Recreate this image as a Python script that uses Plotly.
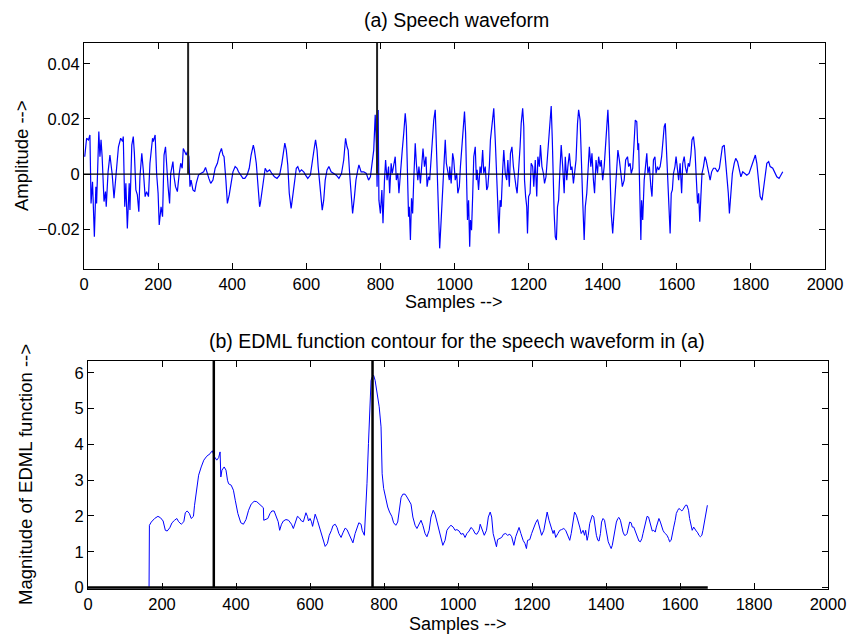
import plotly.graph_objects as go

# ---------------- data ----------------
# (a) speech waveform: (sample, amplitude) vertices
speech_part1 = [(2,.0063),(7,.013),(12,.0124),(16,.0142),(19,-.0107),(23,-.0028),(28,-.0228),(32,-.0046),(34,-.0107),(40,.0154),(43,.0063),(46,.0124),(49,.0063),(54,-.010),(58,-.0064),(60,-.0119),(65,.0008),(70,.0069),(76,0),(81,-.0088),(86,-.001),(93,.0099),(99,.013),(104,.0118),(106,.0136),(110,-.0119),(113,-.0034),(117,-.0198),(122,-.0034),(124,-.0131),(129,.0105),(133,.0136),(136,.0075),(140,-.0058),(144,-.0076),(148,-.0137),(151,-.001),(156,.0075),(160,.0015),(165,-.0082),(169,-.0064),(174,-.0082),(178,.0039),(185,.013),(187,.0118),(192,.0142),(196,.0002),(200,-.007),(203,-.0185),(208,-.0119),(212,-.0155),(216,.0069),(220,.0099),(223,.0015),(227,-.0046),(231,-.0107),(234,.0002),(240,.0045),(243,-.001),(247,-.0046),(252,-.0064),(257,.0002),(261,.0039),(265,.0021),(268,.0093),(272,.0081),(276,.0069),(279,.0081),(283,.0063),(286,-.0046),(289,-.0022),(294,-.0058),(299,-.0064),(303,-.0034),(309,-.0004),(315,.0002),(323,.0008),(328,.0024),(331,.0008),(337,-.0016),(342,-.0034),(348,-.0022),(354,.0021),(360,.0039),(366,.0075),(371,.0093),(375,.0069),(378,.0063),(383,-.0022),(387,-.0107),(392,-.0076),(396,-.0034),(402,.0008),(408,.0027),(413,.0021),(417,.0008),(423,-.0004),(429,-.0016),(434,-.0016),(440,-.0004),(446,.0021),(451,.0069),(457,.0105),(460,.0087),(465,.0039),(469,-.0034),(474,-.0119)]
speech_part2 = [(476,-.0107),(483,-.0046),(489,.0021),(494,.0008),(501,.0015),(507,.0002),(514,-.001),(521,-.0016),(528,-.0004),(534,.0039),(539,.0087),(542,.0112),(546,.0087),(550,.0033),(554,-.007),(559,-.0125),(562,-.0095),(568,-.0022),(573,.0021),(577,.0027),(582,.0008),(587,.0015),(593,.0008),(598,-.0004),(604,-.0016),(611,-.0004),(616,.0051),(622,.0099),(625,.0124),(629,.0087),(632,.0027),(638,-.0076),(643,-.0131),(647,-.0095),(651,-.0022),(656,.0015),(661,.0027),(667,.0008),(674,.0002),(681,-.0004),(688,-.0016),(695,.0002),(701,.0051),(706,.013),(710,.0099),(713,.0087),(717,.0002),(722,-.0082),(725,-.0143),(730,-.0082),(734,-.0022),(739,.0015),(742,.0033),(748,.0008),(755,.0008),(762,.0002),(768,-.0022),(773,-.001),(777,.0027),(782,.0087),(786,.0215),(789,.0112),(791,-.0046),(794,.0233),(796,-.0095),(800,-.0143),(804,-.0058),(807,-.0179),(811,-.0022),(814,.0051),(818,-.0022),(822,.0027),(825,-.007),(829,.0039),(832,.0002),(836,.0033),(840,.0063),(843,-.0022),(847,.0002),(850,-.007),(854,.0015),(859,.0087),(863,.0148),(867,.0221),(870,.0172),(873,-.0022),(876,-.0155),(878,-.0119),(881,-.024),(884,-.0088),(887,-.0143),(890,-.0022),(894,.0112),(897,.0039),(901,-.0022),(904,.0027),(908,-.0034),(912,.0039),(915,.0093),(919,.0027),(923,.0063),(926,-.0046),(930,-.001),(933,-.0022),(937,.0051),(941,.0148),(944,.0196),(948,.0233),(950,.0148),(953,-.0058),(957,-.0216),(960,-.027),(964,-.0167),(967,-.0095),(971,.0002),(975,.0124),(978,.0039),(982,.0002),(986,-.0022)]
speech_part3 = [(987,.0027),(991,-.0034),(995,.0075),(998,.0051),(1002,-.0022),(1006,.0002),(1009,-.007),(1013,-.0046),(1016,.0027),(1020,.0112),(1024,.0184),(1027,.0227),(1030,.0148),(1033,-.0022),(1035,-.0167),(1038,-.0095),(1041,-.0264),(1043,-.0167),(1046,-.0204),(1049,-.0082),(1052,.0063),(1056,.0099),(1059,-.0022),(1061,.0015),(1065,-.0058),(1069,.0027),(1072,.0002),(1076,.0087),(1079,.0002),(1083,.0027),(1087,-.0058),(1090,-.0046),(1094,.0027),(1097,.0124),(1102,.0184),(1106,.0239),(1110,.0124),(1114,-.0046),(1117,-.0167),(1120,-.0216),(1123,-.0095),(1126,-.0119),(1130,.0015),(1133,.0087),(1137,.0002),(1141,-.0022),(1144,.0051),(1148,-.0046),(1151,.0075),(1155,.0099),(1159,.0027),(1162,-.001),(1166,-.0046),(1169,-.007),(1173,.0002),(1177,.0099),(1180,.0184),(1184,.0239),(1187,.0172),(1189,-.0022),(1192,-.0082),(1195,-.0119),(1197,-.0216),(1200,-.0082),(1204,-.007),(1207,.0039),(1211,.0027),(1214,-.0046),(1218,.0051),(1222,-.0082),(1225,.0063),(1229,.0027),(1232,.0105),(1236,.0027),(1240,.0002),(1243,-.0034),(1247,-.001),(1251,.0069),(1254,.0124),(1258,.0196),(1261,.0247),(1264,.0124),(1267,-.0058),(1269,-.0143),(1272,-.0228),(1275,-.024),(1278,-.0119),(1281,-.0095),(1285,.0027),(1288,.0105),(1292,.0027),(1296,-.007),(1299,.0063),(1303,-.0022),(1306,.0027),(1310,.0075),(1314,.0015),(1317,.0027),(1321,-.0034),(1324,.0002),(1328,.0051),(1332,.0184),(1335,.0233),(1339,.0196),(1342,.0027),(1346,-.0095),(1350,-.024),(1353,-.0119),(1357,-.007),(1360,.0027),(1364,.0099),(1368,.0027),(1371,.0075),(1375,-.0022),(1378,-.007),(1382,.0051),(1386,.0002),(1389,.0063),(1393,.0027),(1396,.0051),(1400,-.0022),(1404,.0027),(1407,.0099),(1411,.016),(1414,.0233),(1416,.0172),(1420,.0002),(1423,-.0143),(1427,-.0216),(1431,-.0119),(1434,-.0034),(1438,.0039),(1441,.0087),(1445,.0051)]
speech_part4 = [(1449,.0002),(1453,-.0046),(1458,-.0022),(1462,.0051),(1467,.0063),(1470,.0027),(1474,.0039),(1477,.0002),(1481,.0021),(1485,.0099),(1488,.0196),(1492,.019),(1495,.0087),(1497,.0112),(1500,-.0095),(1503,-.024),(1505,-.0095),(1508,-.0167),(1512,-.0022),(1515,.0027),(1519,.0075),(1522,.0002),(1526,.0027),(1530,-.0046),(1533,-.0082),(1537,.0051),(1541,.0063),(1544,.0002),(1548,.0027),(1551,.0015),(1555,.0027),(1559,.0063),(1562,.0124),(1566,.0172),(1569,.0184),(1572,.0087),(1575,-.0022),(1578,-.0143),(1582,-.0216),(1585,-.007),(1588,-.0058),(1591,.0002),(1595,.0027),(1598,.0063),(1602,.0002),(1605,-.0022),(1609,.0039),(1613,-.007),(1616,.0039),(1620,.0063),(1623,.0027),(1627,.0002),(1631,.0039),(1634,.0027),(1638,.0069),(1641,.0124),(1645,.0136),(1649,.0087),(1652,.0002),(1656,-.0107),(1659,-.007),(1662,-.0173),(1665,-.0082),(1668,.0002),(1672,.0027),(1676,.0063),(1679,.0051),(1683,.0027),(1686,.0002),(1690,-.0022),(1694,.0008),(1699,.0021),(1704,.0021),(1710,.0008),(1715,.0021),(1719,.0063),(1723,.0099),(1728,.0105),(1731,.0063),(1735,-.001),(1739,-.007),(1742,-.0143),(1746,-.0082),(1750,.0002),(1755,.0039),(1759,.0057),(1764,.0045),(1768,.0021),(1773,-.001),(1778,.0008),(1784,.0002),(1789,-.0004),(1795,.0002),(1802,.0027),(1807,.0051),(1812,.0069),(1816,.0039),(1820,-.0022),(1825,-.0082),(1830,-.0095),(1834,-.0046),(1839,.0002),(1843,.0039),(1848,.0045),(1852,.0027),(1859,.0021),(1865,.0002),(1870,-.001),(1876,-.0016),(1881,-.0004),(1886,.0008)]

# (b) EDML function contour: (sample, magnitude) vertices
edml_part1 = [(0,0),(165,0),(166,1.74),(171,1.83),(180,1.93),(189,1.99),(196,1.95),(203,1.86),(209,1.60),(214,1.58),(221,1.67),(227,1.81),(234,1.88),(240,1.93),(245,1.84),(252,1.77),(259,1.84),(263,2.09),(268,2.14),(274,2.07),(279,1.93),(285,1.99),(288,2.30),(294,2.77),(299,3.14),(306,3.37),(313,3.56),(321,3.67),(326,3.70),(330,3.74),(333,3.79),(336,3.82),(342,3.65),(348,3.56),(353,3.63),(357,3.79),(359,3.09),(362,3.28),(368,3.37),(373,3.28),(377,3.00),(380,2.90),(387,2.86),(393,2.72),(398,2.44),(405,2.07),(413,1.81),(420,1.77),(427,1.90),(434,2.16),(441,2.33),(449,2.41),(456,2.40),(463,2.33),(470,2.25),(474,2.23),(475,1.88),(481,1.90),(486,1.93),(492,2.07),(497,2.14),(503,2.14),(508,2.02),(514,1.84),(518,1.60),(523,1.77),(528,1.86),(535,1.90),(542,1.88),(550,1.77),(555,1.65),(560,1.84),(566,1.99),(571,1.95),(577,1.86),(582,1.84),(586,1.97),(589,2.09),(593,1.99),(596,1.86),(600,1.93),(604,1.84),(607,1.71),(611,1.97),(614,2.05),(620,1.88),(625,1.70),(631,1.51),(636,1.32),(641,1.15),(647,1.23),(652,1.46)]
edml_part2 = [(658,1.60),(662,1.73),(668,1.77),(673,1.68),(678,1.51),(684,1.40),(689,1.53),(695,1.66),(700,1.62),(705,1.51),(711,1.34),(716,1.25),(722,1.51),(727,1.69),(732,1.81),(738,1.77),(741,1.60),(747,1.46),(750,1.97),(754,2.90),(758,4.02),(761,5.05),(765,5.79),(768,5.88),(772,5.93),(776,5.79),(781,5.47),(787,5.05),(792,4.49),(795,3.18),(799,2.77),(805,2.44),(810,2.25),(815,2.11),(821,1.99),(826,1.81),(832,1.74),(837,1.83),(841,2.21),(846,2.51),(851,2.61),(857,2.61),(862,2.53),(868,2.44),(873,2.33),(878,1.97),(884,1.74),(889,1.65),(895,1.79),(900,1.88),(905,1.74),(911,1.51),(916,1.42),(922,1.60),(927,1.97),(933,2.16),(938,2.05),(943,1.83),(949,1.60),(954,1.40),(959,1.18),(965,1.32),(970,1.60),(976,1.69),(981,1.74),(987,1.69),(992,1.60),(997,1.62),(1003,1.58),(1008,1.49),(1014,1.51),(1019,1.40),(1024,1.51),(1030,1.58),(1035,1.68),(1041,1.62),(1046,1.51),(1051,1.49),(1057,1.60),(1060,1.77),(1066,1.60),(1071,1.46),(1077,1.60),(1082,1.97),(1087,2.11),(1091,1.97),(1095,1.51),(1100,1.32),(1104,1.14),(1107,1.34),(1113,1.37),(1118,1.40),(1123,1.49),(1129,1.51),(1134,1.46),(1140,1.49),(1145,1.42),(1151,1.18),(1156,1.42),(1161,1.60),(1165,1.68),(1170,1.51),(1176,1.32),(1181,1.23),(1185,1.09),(1188,1.32),(1194,1.34),(1199,1.51),(1205,1.69),(1210,1.81),(1215,1.90),(1221,1.69),(1226,1.46),(1232,1.60),(1237,1.90),(1241,2.11),(1246,1.88),(1251,1.69),(1257,1.51),(1260,1.60),(1264,1.40),(1270,1.51),(1275,1.60),(1280,1.62),(1286,1.65),(1291,1.60),(1295,1.51),(1300,1.37)]
edml_part3 = [(1302,1.32),(1306,1.51),(1311,1.88),(1315,2.11),(1320,2.02),(1324,1.83),(1329,1.69),(1333,1.51),(1338,1.60),(1342,1.46),(1345,1.60),(1349,1.32),(1352,1.46),(1356,1.79),(1360,1.97),(1363,2.02),(1367,1.97),(1370,1.69),(1374,1.46),(1378,1.32),(1381,1.30),(1385,1.51),(1388,1.83),(1392,1.93),(1396,1.88),(1399,1.69),(1403,1.46),(1406,1.28),(1410,1.18),(1414,1.09),(1417,1.18),(1421,1.42),(1424,1.65),(1428,1.83),(1432,1.93),(1435,1.96),(1439,1.88),(1442,1.69),(1446,1.55),(1450,1.46),(1453,1.46),(1457,1.51),(1460,1.69),(1464,1.83),(1468,1.81),(1471,1.69),(1475,1.69),(1478,1.60),(1482,1.51),(1486,1.42),(1489,1.30),(1493,1.28),(1497,1.37),(1500,1.51),(1504,1.69),(1507,1.88),(1511,1.99),(1515,1.97),(1518,1.83),(1522,1.68),(1525,1.58),(1529,1.60),(1533,1.55),(1536,1.69),(1540,1.88),(1543,1.93),(1547,1.83),(1551,1.69),(1554,1.60),(1558,1.53),(1561,1.51),(1565,1.46),(1569,1.37),(1572,1.28),(1576,1.32),(1579,1.51),(1583,1.69),(1587,1.88),(1590,2.07),(1594,2.16),(1597,2.21),(1601,2.18),(1605,2.14),(1608,2.18),(1612,2.25),(1615,2.30),(1619,2.30),(1623,2.16),(1626,1.93),(1630,1.74),(1633,1.60),(1637,1.69),(1641,1.60),(1644,1.58),(1648,1.53),(1651,1.46),(1655,1.42),(1659,1.46),(1662,1.60),(1666,1.83),(1670,2.07),(1674,2.30)]

# epoch markers (sample positions) and the extent of the zero baseline
speech_markers = [281, 791]
edml_markers = [340, 769]
baseline_end = 1675

x_ticks = [0, 200, 400, 600, 800, 1000, 1200, 1400, 1600, 1800, 2000]
amp_ticks = [-0.02, 0, 0.02, 0.04]
amp_tick_text = ["\u22120.02", "0", "0.02", "0.04"]
edml_ticks = [0, 1, 2, 3, 4, 5, 6]

title_a = "(a) Speech waveform"
title_b = "(b) EDML function contour for the speech waveform in (a)"
xlabel = "Samples -->"
ylabel_a = "Amplitude -->"
ylabel_b = "Magnitude of EDML function -->"

# ---------------- build ----------------
speech = speech_part1 + speech_part2 + speech_part3 + speech_part4
edml = edml_part1 + edml_part2 + edml_part3
sx = [p[0] for p in speech]
sy = [p[1] for p in speech]
ex = [p[0] for p in edml]
ey = [p[1] for p in edml]

def stems(xs, top):
    X, Y = [], []
    for v in xs:
        X += [v, v, None]
        Y += [0, top, None]
    return X, Y

fig = go.Figure()
fig.add_trace(go.Scatter(x=sx, y=sy, mode="lines", line=dict(color="#0000ff", width=1.2),
                         xaxis="x", yaxis="y", showlegend=False))
fig.add_trace(go.Scatter(x=[0, baseline_end], y=[0, 0], mode="lines",
                         line=dict(color="black", width=1.2), xaxis="x", yaxis="y", showlegend=False))
mx, my = stems(speech_markers, 0.06)
fig.add_trace(go.Scatter(x=mx, y=my, mode="lines", line=dict(color="#222", width=2),
                         xaxis="x", yaxis="y", showlegend=False))

fig.add_trace(go.Scatter(x=ex, y=ey, mode="lines", line=dict(color="#0000ff", width=1),
                         xaxis="x2", yaxis="y2", showlegend=False))
fig.add_trace(go.Scatter(x=[0, baseline_end], y=[0, 0], mode="lines",
                         line=dict(color="black", width=2.5), xaxis="x2", yaxis="y2", showlegend=False))
mx2, my2 = stems(edml_markers, 7)
fig.add_trace(go.Scatter(x=mx2, y=my2, mode="lines", line=dict(color="black", width=2.5),
                         xaxis="x2", yaxis="y2", showlegend=False))

FONT = "Liberation Sans, Arial, Helvetica, sans-serif"
axis_common = dict(showline=True, linecolor="black", linewidth=1.2, mirror="allticks",
                   ticks="inside", ticklen=6, tickwidth=1, tickcolor="black",
                   showgrid=False, zeroline=False, tickfont=dict(family=FONT, size=16.5, color="black"))

W, H = 848, 635
fig.update_layout(
    width=W, height=H, autosize=False, margin=dict(l=0, r=0, t=0, b=0, autoexpand=False),
    paper_bgcolor="white", plot_bgcolor="white",
    xaxis=dict(domain=[84 / W, 825 / W], range=[0, 2000], tickvals=x_ticks, anchor="y", **axis_common),
    yaxis=dict(domain=[1 - 269 / H, 1 - 43 / H], range=[-0.0345, 0.0476], tickvals=amp_ticks,
               ticktext=amp_tick_text, anchor="x", **axis_common),
    xaxis2=dict(domain=[88 / W, 828 / W], range=[0, 2000], tickvals=x_ticks, anchor="y2", **axis_common),
    yaxis2=dict(domain=[1 - 589 / H, 1 - 361 / H], range=[-0.04, 6.33], tickvals=edml_ticks,
                anchor="x2", **axis_common),
)

def ann(text, x, y, size, angle=0):
    fig.add_annotation(text=text, x=x / W, y=1 - y / H, xref="paper", yref="paper",
                       showarrow=False, textangle=angle, xanchor="center", yanchor="middle",
                       font=dict(family=FONT, size=size, color="black"))

ann(title_a, 457, 20, 19.5)
ann(xlabel, 454, 301.5, 18)
ann(ylabel_a, 21, 156, 18.5, -90)
ann(title_b, 457, 341, 19.5)
ann(xlabel, 458, 624, 18)
ann(ylabel_b, 25, 475, 18.5, -90)

fig.write_html("out.html", config={"responsive": False},
               post_script="document.body.style.margin='0';document.body.style.overflow='hidden';")
